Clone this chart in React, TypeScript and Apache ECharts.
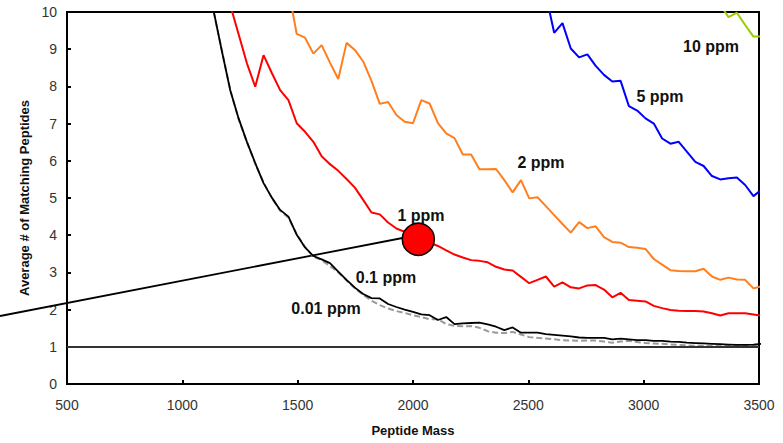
import React, { useEffect, useRef } from "react";
import * as echarts from "echarts";

const MASS = [
  1136, 1172, 1208, 1244, 1280, 1316, 1352, 1388, 1424, 1460,
  1496, 1532, 1568, 1604, 1640, 1676, 1712, 1748, 1784, 1820,
  1856, 1892, 1928, 1964, 2000, 2036, 2072, 2108, 2144, 2180,
  2216, 2252, 2288, 2324, 2360, 2396, 2432, 2468, 2504, 2540,
  2576, 2612, 2648, 2684, 2720, 2756, 2792, 2828, 2864, 2900,
  2936, 2972, 3008, 3044, 3080, 3116, 3152, 3188, 3224, 3260,
  3296, 3332, 3368, 3404, 3440, 3476, 3512,
];

const PPM_0_01 = [
  10.0, 8.95, 7.9, 7.12, 6.5, 5.92, 5.42, 5.0, 4.66, 4.47,
  4.03, 3.68, 3.42, 3.33, 3.17, 3.0, 2.78, 2.57, 2.4, 2.24,
  2.12, 2.03, 1.96, 1.91, 1.85, 1.8, 1.74, 1.74, 1.61, 1.56,
  1.55, 1.56, 1.51, 1.42, 1.38, 1.37, 1.4, 1.33, 1.26, 1.24,
  1.22, 1.2, 1.18, 1.17, 1.16, 1.17, 1.17, 1.14, 1.11, 1.14,
  1.16, 1.13, 1.1, 1.09, 1.08, 1.06, 1.05, 1.04, 1.03, 1.03,
  1.02, 1.02, 1.02, 1.02, 1.02, 1.02, 1.02,
];

const PPM_0_1 = [
  10.02, 8.93, 7.89, 7.14, 6.51, 5.94, 5.4, 5.01, 4.68, 4.5,
  4.01, 3.67, 3.44, 3.35, 3.25, 3.02, 2.8, 2.59, 2.42, 2.31,
  2.3, 2.15, 2.07, 2.0, 1.94, 1.87, 1.85, 1.72, 1.8, 1.61,
  1.63, 1.64, 1.65, 1.6, 1.54, 1.45, 1.52, 1.38, 1.38, 1.38,
  1.34, 1.32, 1.3, 1.28, 1.25, 1.24, 1.24, 1.24, 1.2, 1.22,
  1.2, 1.18, 1.18, 1.16, 1.16, 1.14, 1.13, 1.11, 1.1, 1.09,
  1.08, 1.07, 1.06, 1.05, 1.05, 1.06, 1.08,
];

const PPM_1 = [
  11.7, 10.96, 10.18, 9.4, 8.62, 7.99, 8.84, 8.36, 7.9, 7.63,
  7.01, 6.78, 6.51, 6.12, 5.91, 5.73, 5.51, 5.28, 4.95, 4.61,
  4.56, 4.34, 4.18, 4.09, 3.98, 3.88, 3.8, 3.71, 3.59, 3.48,
  3.4, 3.33, 3.31, 3.27, 3.15, 3.08, 3.05, 2.88, 2.71, 2.8,
  2.89, 2.62, 2.73, 2.6, 2.57, 2.65, 2.66, 2.54, 2.33, 2.45,
  2.26, 2.24, 2.22, 2.1, 2.04, 1.99, 1.97, 1.96, 1.96, 1.95,
  1.9, 1.84, 1.9, 1.9, 1.9, 1.87, 1.83,
];

const PPM_2 = [
  null, null, null, null, null, null, null, null, 11.3, 10.6,
  9.41, 9.31, 8.88, 9.11, 8.64, 8.2, 9.17, 8.98, 8.67, 8.15,
  7.53, 7.58, 7.23, 7.05, 7.01, 7.63, 7.54, 7.01, 6.74, 6.61,
  6.17, 6.17, 5.77, 5.77, 5.78, 5.48, 5.15, 5.48, 4.99, 5.02,
  4.78, 4.54, 4.3, 4.07, 4.35, 4.19, 4.24, 3.95, 3.82, 3.8,
  3.68, 3.66, 3.63, 3.36, 3.21, 3.06, 3.04, 3.03, 3.03, 3.1,
  2.89, 2.8, 2.86, 2.81, 2.8, 2.57, 2.63,
];

const PPM_5 = [
  null, null, null, null, null, null, null, null, null, null,
  null, null, null, null, null, null, null, null, null, null,
  null, null, null, null, null, null, null, null, null, null,
  null, null, null, null, null, null, null, null, null, null,
  10.47, 9.44, 9.7, 9.02, 8.78, 8.86, 8.55, 8.31, 8.13, 8.15,
  7.47, 7.35, 7.14, 7.0, 6.6, 6.46, 6.51, 6.24, 5.97, 5.86,
  5.59, 5.5, 5.53, 5.55, 5.35, 5.05, 5.23,
];

const PPM_10 = [
  null, null, null, null, null, null, null, null, null, null,
  null, null, null, null, null, null, null, null, null, null,
  null, null, null, null, null, null, null, null, null, null,
  null, null, null, null, null, null, null, null, null, null,
  null, null, null, null, null, null, null, null, null, null,
  null, null, null, null, null, null, null, null, null, null,
  10.9, 10.2, 9.86, 9.98, 9.65, 9.34, 9.34,
];

const SERIES_NAMES = ["0.01 ppm", "0.1 ppm", "1 ppm", "2 ppm", "5 ppm", "10 ppm"];
const HIGHLIGHT = [2023, 3.89];
const BASELINE = 1;

const FONT = "'Liberation Sans', Arial, Helvetica, sans-serif";

function pairs(ys: (number | null)[]) {
  return MASS.map((m, i) => [m, ys[i]]).filter((p) => p[1] != null);
}

function lineSeries(name: string, ys: (number | null)[], color: string, width: number, type: any = "solid", z = 3) {
  return {
    name,
    type: "line",
    data: pairs(ys),
    symbol: "none",
    showSymbol: false,
    z,
    lineStyle: { color, width, type },
    clip: true,
  };
}

function label(text: string, x: number, y: number) {
  return {
    type: "text",
    x,
    y,
    z: 20,
    style: {
      text,
      font: `bold 16px ${FONT}`,
      fill: "#111",
      textAlign: "center",
      textVerticalAlign: "middle",
      align: "center",
      verticalAlign: "middle",
    },
  };
}

export default function App() {
  const ref = useRef<HTMLDivElement>(null);
  useEffect(() => {
    if (!ref.current) return;
    const chart = echarts.init(ref.current, undefined, { renderer: "svg" });
    const base = lineSeries(SERIES_NAMES[0], PPM_0_01, "#9a9a9a", 2, [6, 3], 2) as any;
    const black = lineSeries(SERIES_NAMES[1], PPM_0_1, "#000000", 1.8, "solid", 3) as any;
    black.markLine = {
      silent: true,
      symbol: "none",
      label: { show: false },
      lineStyle: { color: "#333", width: 2, type: "solid" },
      data: [{ yAxis: BASELINE }],
    };
    chart.setOption({
      animation: false,
      grid: {
        left: 67,
        right: 24,
        top: 12,
        bottom: 59,
        show: true,
        borderColor: "#000",
        borderWidth: 2,
        backgroundColor: "transparent",
      },
      xAxis: {
        type: "value",
        min: 500,
        max: 3500,
        interval: 500,
        name: "Peptide Mass",
        nameLocation: "middle",
        nameGap: 40,
        nameTextStyle: { fontWeight: "bold", fontSize: 13, color: "#111", fontFamily: FONT },
        axisLine: { lineStyle: { color: "#000", width: 2 } },
        axisTick: { inside: true, length: 4, lineStyle: { color: "#000", width: 2 } },
        axisLabel: { color: "#333", fontSize: 14, margin: 14, fontFamily: FONT, formatter: (v: number) => String(v) },
        splitLine: { show: false },
      },
      yAxis: {
        type: "value",
        min: 0,
        max: 10,
        interval: 1,
        name: "Average # of Matching Peptides",
        nameLocation: "middle",
        nameGap: 34,
        nameRotate: 90,
        nameTextStyle: { fontWeight: "bold", fontSize: 13, color: "#111", fontFamily: FONT },
        axisLine: { lineStyle: { color: "#000", width: 2 } },
        axisTick: { inside: true, length: 4, lineStyle: { color: "#000", width: 2 } },
        axisLabel: { color: "#333", fontSize: 14, margin: 10, fontFamily: FONT, formatter: (v: number) => String(v) },
        splitLine: { show: false },
      },
      graphic: [
        {
          type: "line",
          z: 1,
          shape: { x1: 0, y1: 316, x2: 418, y2: 235 },
          style: { stroke: "#000", lineWidth: 1.8 },
        },
        label(SERIES_NAMES[5], 711, 46),
        label(SERIES_NAMES[4], 660, 96),
        label(SERIES_NAMES[3], 541, 162),
        label(SERIES_NAMES[2], 421, 215),
        label(SERIES_NAMES[1], 386, 277),
        label(SERIES_NAMES[0], 326, 308),
      ],
      series: [
        base,
        black,
        lineSeries(SERIES_NAMES[2], PPM_1, "#ff0000", 2),
        lineSeries(SERIES_NAMES[3], PPM_2, "#ff7f1e", 2),
        lineSeries(SERIES_NAMES[4], PPM_5, "#0000ff", 2),
        lineSeries(SERIES_NAMES[5], PPM_10, "#99cc00", 2),
        {
          type: "scatter",
          z: 10,
          data: [HIGHLIGHT],
          symbol: "circle",
          symbolSize: 32,
          itemStyle: { color: "#ff0000", borderColor: "#000", borderWidth: 1.5, opacity: 1 },
          clip: false,
        },
      ],
    });
    return () => chart.dispose();
  }, []);
  return (
    <div
      ref={ref}
      style={{ position: "absolute", left: 0, top: 0, width: 783, height: 443, background: "#fff" }}
    />
  );
}
